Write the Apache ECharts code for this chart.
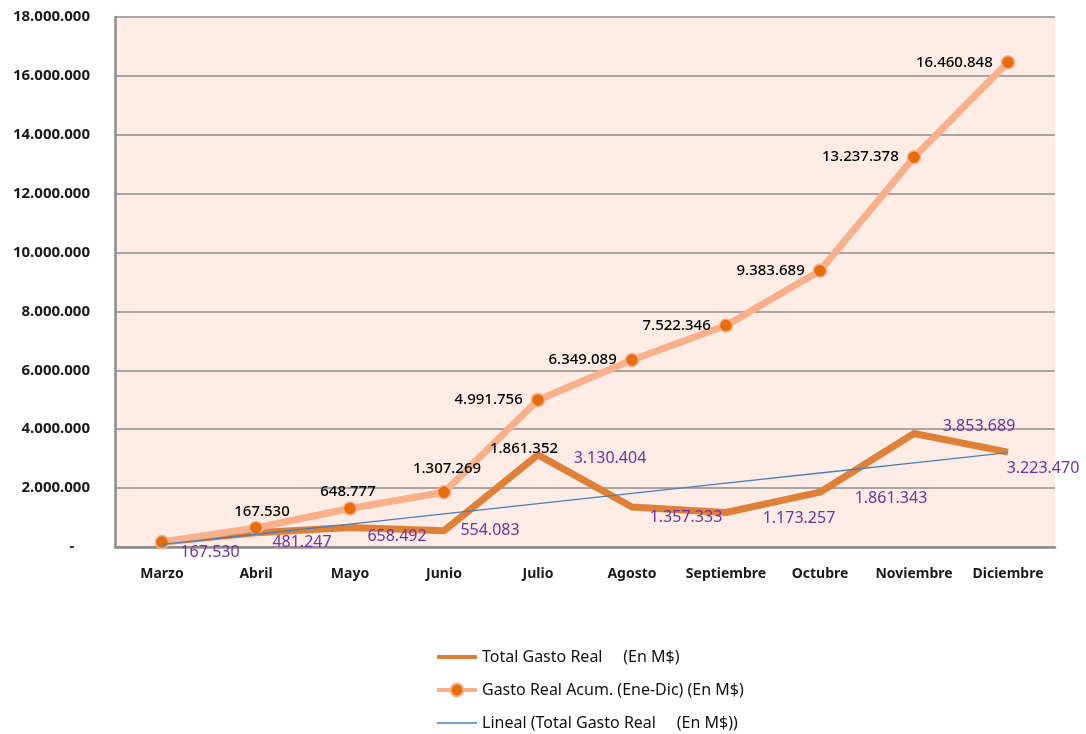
<!DOCTYPE html>
<html>
<head>
    <meta charset="utf-8">
    <script src="https://cdn.jsdelivr.net/npm/echarts@6/dist/echarts.min.js"></script>
    <style>
        html, body { margin: 0; padding: 0; background: #fff; }
    </style>
</head>
<body>
<div id="main" style="width: 1086px;height:734px;"></div>

<script type="text/javascript">
    // datos
    var meses = ['Marzo', 'Abril', 'Mayo', 'Junio', 'Julio', 'Agosto', 'Septiembre', 'Octubre', 'Noviembre', 'Diciembre'];
    var gastoReal = [167530, 481247, 658492, 554083, 3130404, 1357333, 1173257, 1861343, 3853689, 3223470];
    var gastoAcum = [167530, 648777, 1307269, 1861352, 4991756, 6349089, 7522346, 9383689, 13237378, 16460848];
    var yTicks = [0, 2000000, 4000000, 6000000, 8000000, 10000000, 12000000, 14000000, 16000000, 18000000];

    var nombres = ['Total Gasto Real     (En M$)', 'Gasto Real Acum. (Ene-Dic) (En M$)', 'Lineal (Total Gasto Real     (En M$))'];

    // etiquetas movidas a mano (como en la planilla original)
    var offAcum = [[100, -30], [92, -36], [97, -40], [80, -43]];
    var offReal = [[48, 10], [46, 10], [47, 9], [46, 0], [72, 4], [54, 10], [73, 6], [71, 6], [65, -7], [35, 16]];

    var fmt = function (v) {
        return String(Math.round(v)).replace(/\B(?=(\d{3})+(?!\d))/g, '.');
    };

    // linea de tendencia lineal (minimos cuadrados sobre gastoReal)
    var n = gastoReal.length, sx = 0, sy = 0, sxy = 0, sxx = 0;
    for (var i = 0; i < n; i++) {
        sx += i; sy += gastoReal[i]; sxy += i * gastoReal[i]; sxx += i * i;
    }
    var pend = (n * sxy - sx * sy) / (n * sxx - sx * sx);
    var orig = (sy - pend * sx) / n;
    var tendencia = meses.map(function (m, i) { return orig + pend * i; });

    var fuente = 'Noto Sans';

    var dataReal = gastoReal.map(function (v, i) {
        return {value: v, label: {offset: offReal[i]}};
    });
    var dataAcum = gastoAcum.map(function (v, i) {
        if (i < offAcum.length) {
            return {value: v, label: {position: 'inside', offset: offAcum[i]}};
        }
        return {value: v};
    });

    var myChart = echarts.init(document.getElementById('main'));

    var option = {
        animation: false,
        backgroundColor: '#ffffff',
        grid: {
            left: 115, top: 17, right: 31, bottom: 187,
            show: true,
            backgroundColor: '#fcece5',
            borderWidth: 0
        },
        xAxis: {
            type: 'category',
            data: meses,
            boundaryGap: true,
            axisLine: {lineStyle: {color: '#8c8c8c', width: 2.5}},
            axisTick: {show: false},
            axisLabel: {
                interval: 0,
                margin: 20,
                color: '#1a1a1a',
                fontFamily: fuente,
                fontWeight: 'bold',
                fontSize: 14
            }
        },
        yAxis: {
            type: 'value',
            min: yTicks[0],
            max: yTicks[yTicks.length - 1],
            interval: yTicks[1] - yTicks[0],
            axisLine: {show: true, lineStyle: {color: '#8c8c8c', width: 2.5}},
            axisTick: {show: false},
            splitLine: {lineStyle: {color: '#8c8c8c', width: 1.5}},
            axisLabel: {
                margin: 25,
                color: '#1a1a1a',
                fontFamily: fuente,
                fontWeight: 'bold',
                fontSize: 15,
                formatter: function (v) { return v === 0 ? '-    ' : fmt(v); }
            }
        },
        legend: {
            orient: 'vertical',
            left: 435,
            top: 649,
            padding: 0,
            itemWidth: 40,
            itemHeight: 16,
            itemGap: 17,
            textStyle: {fontFamily: fuente, fontSize: 16, color: '#111'},
            data: [
                {name: nombres[0], icon: 'path://M0,0H40V4H0Z'},
                {name: nombres[1], lineStyle: {width: 4}},
                {name: nombres[2], icon: 'path://M0,0H40V1.4H0Z'}
            ]
        },
        series: [
            {
                name: nombres[0],
                type: 'line',
                z: 2,
                data: dataReal,
                symbol: 'circle',
                symbolSize: 0,
                lineStyle: {color: '#df8039', width: 7},
                itemStyle: {color: '#df8039'},
                label: {
                    show: true,
                    position: 'inside',
                    color: '#7030a0',
                    fontFamily: fuente,
                    fontSize: 16,
                    formatter: function (p) { return fmt(p.value); }
                }
            },
            {
                name: nombres[1],
                type: 'line',
                z: 3,
                data: dataAcum,
                symbol: 'circle',
                symbolSize: 13,
                lineStyle: {color: '#f7b08a', width: 7},
                itemStyle: {color: '#e66c0e', borderColor: '#f7b08a', borderWidth: 1.5},
                label: {
                    show: true,
                    position: 'left',
                    distance: 8,
                    color: '#000',
                    fontFamily: fuente,
                    fontWeight: 500,
                    fontSize: 15,
                    formatter: function (p) { return fmt(p.value); }
                }
            },
            {
                name: nombres[2],
                type: 'line',
                z: 4,
                data: tendencia,
                symbol: 'none',
                lineStyle: {color: '#4a7ebb', width: 1.3},
                itemStyle: {color: '#4a7ebb'}
            }
        ]
    };

    myChart.setOption(option);
</script>

</body>
</html>
